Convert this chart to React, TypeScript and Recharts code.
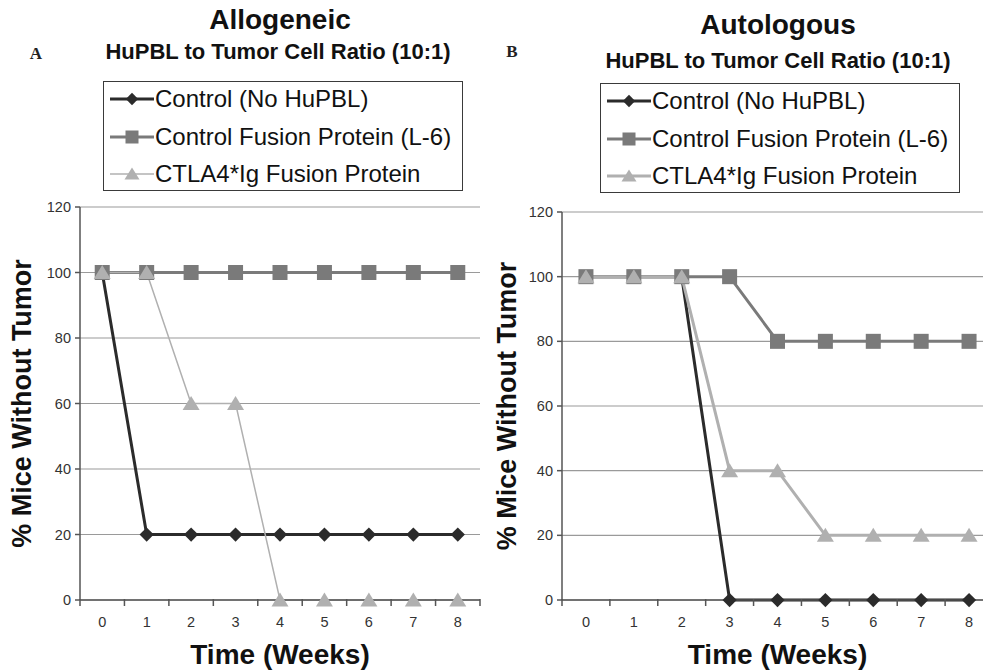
import React from 'react';
import { CartesianGrid, Label, Line, LineChart, XAxis, YAxis } from 'recharts';

const weeks = [0, 1, 2, 3, 4, 5, 6, 7, 8];
const seriesNames = ['Control (No HuPBL)', 'Control Fusion Protein (L-6)', 'CTLA4*Ig Fusion Protein'];

// panel A - allogeneic
const alloControl = [100, 20, 20, 20, 20, 20, 20, 20, 20];
const alloFusion = [100, 100, 100, 100, 100, 100, 100, 100, 100];
const alloCtla4 = [100, 100, 60, 60, 0, 0, 0, 0, 0];

// panel B - autologous
const autoControl = [100, 100, 100, 0, 0, 0, 0, 0, 0];
const autoFusion = [100, 100, 100, 100, 80, 80, 80, 80, 80];
const autoCtla4 = [100, 100, 100, 40, 40, 20, 20, 20, 20];

const yTicks = [0, 20, 40, 60, 80, 100, 120];
// labels on the weeks, tick marks between them (excel style)
const xTicks = [...weeks.flatMap((w) => [w - 0.5, w]), weeks[weeks.length - 1] + 0.5];

const FONT = '"Liberation Sans", Arial, Helvetica, sans-serif';
const keys = ['control', 'fusion', 'ctla4'];
const colors = ['#2b2b2b', '#7a7a7a', '#b0b0b0'];
const shapes = ['diamond', 'square', 'triangle'];

function Marker({ cx, cy, shape, fill, size = 15 }: any) {
  if (cx == null || cy == null) return null;
  const h = size / 2;
  if (shape === 'diamond') {
    const d = h * 0.95;
    return <polygon points={`${cx},${cy - d} ${cx + d},${cy} ${cx},${cy + d} ${cx - d},${cy}`} fill={fill} />;
  }
  if (shape === 'square') {
    return <rect x={cx - h} y={cy - h} width={size} height={size} fill={fill} />;
  }
  return <polygon points={`${cx},${cy - h} ${cx + h + 1},${cy + h - 1} ${cx - h - 1},${cy + h - 1}`} fill={fill} />;
}

function XTick({ x, y, payload }: any) {
  const v = payload.value;
  if (Number.isInteger(v)) {
    return (
      <text x={x} y={y + 27} textAnchor="middle" fontSize={14.5} fill="#333" fontFamily={FONT}>{v}</text>
    );
  }
  return <line x1={x} x2={x} y1={y - 1} y2={y + 6} stroke="#555" strokeWidth={1.5} />;
}

function LegendBox({ left, top, thin }: any) {
  return (
    <div style={{
      position: 'absolute', left, top, width: 360, height: 110, border: '1.5px solid #3a3a3a',
      boxSizing: 'border-box', background: '#fff', fontFamily: FONT,
    }}
    >
      {seriesNames.map((name, i) => (
        <div key={name} style={{ position: 'absolute', left: 6, top: 2 + i * 37.5, height: 30, display: 'flex', alignItems: 'center' }}>
          <svg width={44} height={20}>
            <line x1={0} x2={44} y1={10} y2={10} stroke={colors[i]} strokeWidth={i === 2 && thin ? 1.5 : 3} />
            <Marker cx={22} cy={10} shape={shapes[i]} fill={colors[i]} size={13} />
          </svg>
          <span style={{ fontSize: 24, marginLeft: 1, color: '#111', whiteSpace: 'nowrap' }}>{name}</span>
        </div>
      ))}
    </div>
  );
}

function Panel({
  left, width, top, yWidth, right, data, thin, yLabelX,
}: any) {
  return (
    <div style={{ position: 'absolute', left, top: 0 }}>
      <LineChart width={width} height={671} data={data} margin={{ top, right, bottom: 0, left: 0 }}>
        <CartesianGrid horizontal vertical={false} stroke="#9a9a9a" strokeWidth={1.2} />
        <XAxis
          dataKey="week"
          type="number"
          domain={[-0.5, 8.5]}
          ticks={xTicks}
          interval={0}
          tick={<XTick />}
          tickLine={false}
          tickSize={0}
          tickMargin={0}
          height={71}
          axisLine={{ stroke: '#555', strokeWidth: 1.5 }}
        >
          <Label
            content={({ viewBox }: any) => (
              <text x={viewBox.x + viewBox.width / 2} y={664} textAnchor="middle" fontSize={28} fontWeight="bold" fontFamily={FONT} fill="#111">
                Time (Weeks)
              </text>
            )}
          />
        </XAxis>
        <YAxis
          type="number"
          domain={[0, 120]}
          ticks={yTicks}
          interval={0}
          width={yWidth}
          tickSize={5}
          tickMargin={4}
          tick={{ fontSize: 14.5, fill: '#333', fontFamily: FONT }}
          tickLine={{ stroke: '#555', strokeWidth: 1.5 }}
          axisLine={{ stroke: '#555', strokeWidth: 1.5 }}
        >
          <Label
            content={({ viewBox }: any) => {
              const cy = viewBox.y + viewBox.height / 2;
              return (
                <text
                  x={yLabelX}
                  y={cy}
                  transform={`rotate(-90, ${yLabelX}, ${cy})`}
                  textAnchor="middle"
                  dominantBaseline="central"
                  fontSize={27}
                  fontWeight="bold"
                  fontFamily={FONT}
                  fill="#111"
                >
                  % Mice Without Tumor
                </text>
              );
            }}
          />
        </YAxis>
        {keys.map((k, i) => (
          <Line
            key={k}
            dataKey={k}
            name={seriesNames[i]}
            type="linear"
            stroke={colors[i]}
            strokeWidth={i === 2 && thin ? 1.5 : 3}
            isAnimationActive={false}
            activeDot={false}
            dot={(p: any) => <Marker key={`${k}-${p.index}`} cx={p.cx} cy={p.cy} shape={shapes[i]} fill={colors[i]} />}
          />
        ))}
      </LineChart>
    </div>
  );
}

const alloData = weeks.map((w, i) => ({
  week: w, control: alloControl[i], fusion: alloFusion[i], ctla4: alloCtla4[i],
}));
const autoData = weeks.map((w, i) => ({
  week: w, control: autoControl[i], fusion: autoFusion[i], ctla4: autoCtla4[i],
}));

const titleStyle: React.CSSProperties = {
  position: 'absolute', fontFamily: FONT, fontWeight: 'bold', color: '#111', transform: 'translate(-50%, -50%)', whiteSpace: 'nowrap',
};
const letterStyle: React.CSSProperties = {
  position: 'absolute', fontFamily: '"Liberation Serif", "Times New Roman", serif', fontWeight: 'bold', fontSize: 17, color: '#222', transform: 'translate(-50%, -50%)',
};

export default function App() {
  return (
    <div style={{
      position: 'absolute', left: 0, top: 0, width: 983, height: 671, overflow: 'hidden', background: '#fff',
    }}
    >
      <Panel left={0} width={490} top={207} yWidth={80} right={10} data={alloData} thin yLabelX={22} />
      <Panel left={490} width={520} top={212} yWidth={72} right={17} data={autoData} thin={false} yLabelX={17} />

      <div style={{ ...titleStyle, left: 280, top: 20, fontSize: 28 }}>Allogeneic</div>
      <div style={{ ...letterStyle, left: 36, top: 54 }}>A</div>
      <div style={{ ...titleStyle, left: 278, top: 52, fontSize: 22 }}>HuPBL to Tumor Cell Ratio (10:1)</div>

      <div style={{ ...titleStyle, left: 778, top: 25, fontSize: 28 }}>Autologous</div>
      <div style={{ ...letterStyle, left: 512, top: 52 }}>B</div>
      <div style={{ ...titleStyle, left: 778, top: 61, fontSize: 22 }}>HuPBL to Tumor Cell Ratio (10:1)</div>

      <LegendBox left={103} top={81} thin />
      <LegendBox left={600} top={83} thin={false} />
    </div>
  );
}
